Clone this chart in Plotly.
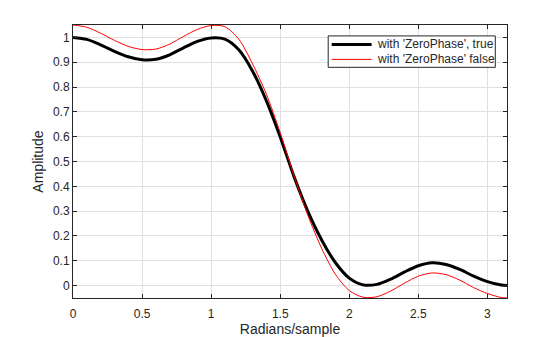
import numpy as np
import plotly.graph_objects as go

# Frequency grid (radians/sample)
w = [0.0, 0.1, 0.2, 0.3, 0.4, 0.5, 0.6, 0.7, 0.8, 0.9, 1.0, 1.1,
     1.2, 1.3, 1.4, 1.5, 1.6, 1.7, 1.8, 1.9, 2.0, 2.1, 2.2, 2.3, 2.4,
     2.5, 2.6, 2.7, 2.8, 2.9, 3.0, 3.1, 3.14159]

# Amplitude with 'ZeroPhase' true
amp_zero_true = [1.0, 0.992, 0.970, 0.944, 0.922, 0.910, 0.912, 0.930,
                 0.958, 0.984, 0.998, 0.993, 0.950, 0.864, 0.744, 0.599,
                 0.439, 0.299, 0.184, 0.092, 0.030, 0.003, 0.005, 0.026,
                 0.055, 0.080, 0.092, 0.085, 0.065, 0.038, 0.016, 0.002, 0.0]

# Amplitude with 'ZeroPhase' false
amp_zero_false = [1.05, 1.041, 1.017, 0.988, 0.964, 0.951, 0.953, 0.973,
                  1.004, 1.032, 1.048, 1.043, 0.993, 0.893, 0.771, 0.616,
                  0.442, 0.283, 0.150, 0.045, -0.020, -0.047, -0.045,
                  -0.022, 0.010, 0.038, 0.051, 0.044, 0.022, -0.008, -0.032,
                  -0.048, -0.05]

series_names = ["with 'ZeroPhase', true", "with 'ZeroPhase' false"]
series_colors = ["#000000", "#ff0000"]
series_widths = [3, 1]

x_ticks = [0, 0.5, 1, 1.5, 2, 2.5, 3]
y_ticks = [0, 0.1, 0.2, 0.3, 0.4, 0.5, 0.6, 0.7, 0.8, 0.9, 1]
y_ticklabels = ["0", "0.1", "0.2", "0.3", "0.4", "0.5", "0.6", "0.7", "0.8", "0.9", "1"]

FONT = "Liberation Sans, Arial, Helvetica, sans-serif"
AX = "#262626"

fig = go.Figure()
for ys, name, col, lw in zip([amp_zero_true, amp_zero_false], series_names,
                             series_colors, series_widths):
    fig.add_trace(go.Scatter(x=w, y=ys, mode="lines", name=name, showlegend=False,
                             line=dict(color=col, width=lw, shape="spline", smoothing=0.8)))

axis_common = dict(showline=True, linecolor=AX, linewidth=1, mirror="ticks",
                   ticks="inside", ticklen=4, tickcolor=AX, automargin=False,
                   showgrid=True, gridcolor="#dfdfdf", gridwidth=1,
                   zeroline=False, tickfont=dict(family=FONT, size=12, color=AX))

fig.update_xaxes(range=[0, np.pi], tickvals=x_ticks,
                 ticktext=[str(t) for t in x_ticks], ticklabelstandoff=5,
                 title=dict(text="Radians/sample", font=dict(family=FONT, size=14, color=AX), standoff=3),
                 **axis_common)
fig.update_yaxes(range=[-0.05, 1.05], tickvals=y_ticks, ticktext=y_ticklabels,
                 title=dict(text="Amplitude", font=dict(family=FONT, size=14, color=AX), standoff=6),
                 **axis_common)

# Legend box drawn in the MATLAB style (compact), inside the top-right of the axes
box_x0, box_x1, box_y0, box_y1 = 0.588, 0.973, 0.845, 0.960
line_x0, line_x1, text_x = 0.596, 0.688, 0.696
row_y = [0.929, 0.874]

shapes = [dict(type="rect", xref="paper", yref="paper", x0=box_x0, x1=box_x1,
               y0=box_y0, y1=box_y1, line=dict(color=AX, width=1), fillcolor="white",
               layer="above")]
annotations = []
for name, col, lw, yy in zip(series_names, series_colors, series_widths, row_y):
    shapes.append(dict(type="line", xref="paper", yref="paper", x0=line_x0, x1=line_x1,
                       y0=yy, y1=yy, line=dict(color=col, width=lw), layer="above"))
    annotations.append(dict(text=name, xref="paper", yref="paper", x=text_x, y=yy,
                            xanchor="left", yanchor="middle", showarrow=False,
                            font=dict(family=FONT, size=12, color=AX)))

fig.update_layout(
    width=560, height=337,
    margin=dict(l=73, r=53, t=25, b=39, autoexpand=False),
    paper_bgcolor="white", plot_bgcolor="white",
    font=dict(family=FONT, size=12, color=AX),
    showlegend=False,
    shapes=shapes, annotations=annotations,
)

fig.write_html("out.html")
